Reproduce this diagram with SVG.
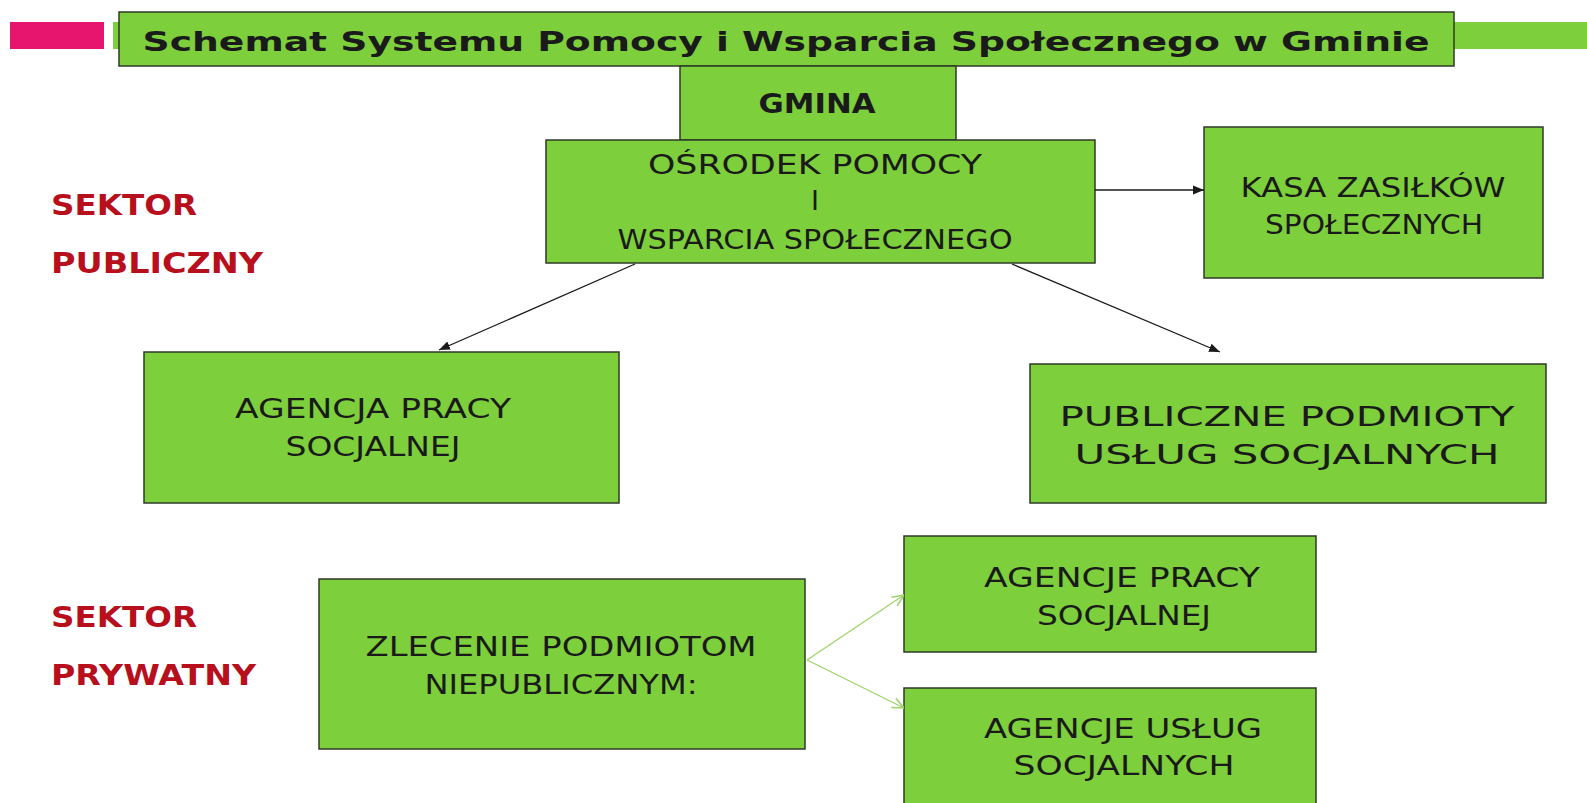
<svg xmlns="http://www.w3.org/2000/svg" width="1587" height="803" viewBox="0 0 1587 803">
<defs>
<style>
.box{fill:#7dcf3b;stroke:#2f3a2a;stroke-width:1.5}
.t{font-family:"DejaVu Sans","Noto Sans",sans-serif;font-size:27px;fill:#1a1a1a;text-anchor:middle}
.b{font-weight:bold}
.red{font-family:"DejaVu Sans","Noto Sans",sans-serif;font-size:28px;font-weight:bold;fill:#b80f1c}
.conn{stroke:#1a1a1a;stroke-width:1.3;fill:none}
.gconn{stroke:#9ed36a;stroke-width:1.3;fill:none}
</style>
<marker id="ah" viewBox="0 0 10 10" refX="10" refY="5" markerWidth="11" markerHeight="11" markerUnits="userSpaceOnUse" orient="auto"><path d="M0,1 L10,5 L0,9 z" fill="#1a1a1a"/></marker>
<marker id="gah" viewBox="0 0 10 10" refX="10" refY="5" markerWidth="13" markerHeight="13" markerUnits="userSpaceOnUse" orient="auto"><path d="M1,1 L10,5 L1,9" fill="none" stroke="#9ed36a" stroke-width="1.2"/></marker>
</defs>
<rect width="1587" height="803" fill="#ffffff"/>
<g id="decor">
<rect x="10" y="22" width="94" height="27" fill="#e8156f"/>
<rect x="113" y="22" width="10" height="27" fill="#7dcf3b"/>
<rect x="1454" y="22" width="133" height="27" fill="#7dcf3b"/>
</g>
<g id="title">
<rect class="box" x="119" y="12" width="1335" height="54"/>
<text class="t b" x="786" y="51" font-size="32" textLength="1287" lengthAdjust="spacingAndGlyphs">Schemat Systemu Pomocy i Wsparcia Społecznego w Gminie</text>
</g>
<g id="gmina">
<rect class="box" x="680" y="66" width="276" height="74"/>
<text class="t b" x="817" y="113" textLength="117" lengthAdjust="spacingAndGlyphs">GMINA</text>
</g>
<g id="osrodek">
<rect class="box" x="546" y="140" width="549" height="123"/>
<text class="t" x="815" y="174" textLength="334" lengthAdjust="spacingAndGlyphs">OŚRODEK POMOCY</text>
<text class="t" x="815" y="210">I</text>
<text class="t" x="815" y="249" textLength="395" lengthAdjust="spacingAndGlyphs">WSPARCIA SPOŁECZNEGO</text>
</g>
<g id="kasa">
<rect class="box" x="1204" y="127" width="339" height="151"/>
<text class="t" x="1373" y="197" textLength="265" lengthAdjust="spacingAndGlyphs">KASA ZASIŁKÓW</text>
<text class="t" x="1374" y="234" textLength="218" lengthAdjust="spacingAndGlyphs">SPOŁECZNYCH</text>
</g>
<g id="agencja-pracy">
<rect class="box" x="144" y="352" width="475" height="151"/>
<text class="t" x="373" y="418" textLength="276" lengthAdjust="spacingAndGlyphs">AGENCJA PRACY</text>
<text class="t" x="373" y="456" textLength="175" lengthAdjust="spacingAndGlyphs">SOCJALNEJ</text>
</g>
<g id="publiczne">
<rect class="box" x="1030" y="364" width="516" height="139"/>
<text class="t" x="1287" y="426" textLength="455" lengthAdjust="spacingAndGlyphs">PUBLICZNE PODMIOTY</text>
<text class="t" x="1287" y="464" textLength="425" lengthAdjust="spacingAndGlyphs">USŁUG SOCJALNYCH</text>
</g>
<g id="zlecenie">
<rect class="box" x="319" y="579" width="486" height="170"/>
<text class="t" x="561" y="656" textLength="391" lengthAdjust="spacingAndGlyphs">ZLECENIE PODMIOTOM</text>
<text class="t" x="561" y="694" textLength="273" lengthAdjust="spacingAndGlyphs">NIEPUBLICZNYM:</text>
</g>
<g id="agencje-pracy">
<rect class="box" x="904" y="536" width="412" height="116"/>
<text class="t" x="1122" y="587" textLength="276" lengthAdjust="spacingAndGlyphs">AGENCJE PRACY</text>
<text class="t" x="1124" y="625" textLength="174" lengthAdjust="spacingAndGlyphs">SOCJALNEJ</text>
</g>
<g id="agencje-uslug">
<rect class="box" x="904" y="688" width="412" height="125"/>
<text class="t" x="1123" y="738" textLength="278" lengthAdjust="spacingAndGlyphs">AGENCJE USŁUG</text>
<text class="t" x="1124" y="775" textLength="221" lengthAdjust="spacingAndGlyphs">SOCJALNYCH</text>
</g>
<g id="labels">
<text class="red" x="51" y="215" textLength="146" lengthAdjust="spacingAndGlyphs">SEKTOR</text>
<text class="red" x="51" y="273" textLength="212" lengthAdjust="spacingAndGlyphs">PUBLICZNY</text>
<text class="red" x="51" y="627" textLength="146" lengthAdjust="spacingAndGlyphs">SEKTOR</text>
<text class="red" x="51" y="685" textLength="205" lengthAdjust="spacingAndGlyphs">PRYWATNY</text>
</g>
<g id="connectors">
<line class="conn" x1="1095" y1="190" x2="1204" y2="190" marker-end="url(#ah)"/>
<line class="conn" x1="635" y1="264" x2="439" y2="350" marker-end="url(#ah)"/>
<line class="conn" x1="1012" y1="264" x2="1220" y2="352" marker-end="url(#ah)"/>
<line class="gconn" x1="807" y1="660" x2="904" y2="595" marker-end="url(#gah)"/>
<line class="gconn" x1="807" y1="660" x2="904" y2="708" marker-end="url(#gah)"/>
</g>
</svg>
